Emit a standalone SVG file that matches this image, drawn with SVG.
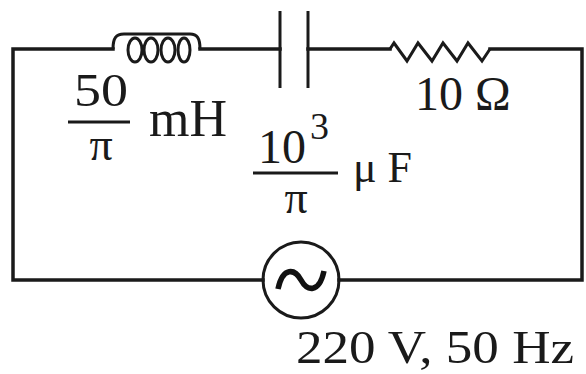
<svg xmlns="http://www.w3.org/2000/svg" width="586" height="374" viewBox="0 0 586 374">
<style>
.w{fill:none;stroke:#1a1a1a;stroke-width:3.5;stroke-linecap:square}
.c{fill:none;stroke:#1a1a1a;stroke-width:3}
.t{font-family:"Liberation Serif","Times New Roman",serif;fill:#1a1a1a}
</style>
<rect width="586" height="374" fill="#ffffff"/>
<g id="connectors">
<path class="w" d="M113,49 L13,49 L13,280 L263,280"/>
<path class="w" d="M200,49 L280,49"/>
<path class="w" d="M308,49 L390,49"/>
<path class="w" d="M490,49 L582,49 L582,280 L339,280"/>
</g>
<g id="inductor">
<path class="c" d="M113,49 C113,38 116,34 124,34 L190,34 C197,34 200,38 200,49"/>
<ellipse class="c" cx="135" cy="50" rx="7" ry="12"/>
<ellipse class="c" cx="151" cy="50" rx="7" ry="12"/>
<ellipse class="c" cx="168" cy="50" rx="7" ry="12"/>
<ellipse class="c" cx="184" cy="50" rx="6" ry="12"/>
<text class="t" x="74" y="106" font-size="46" textLength="54" lengthAdjust="spacingAndGlyphs">50</text>
<line class="c" x1="68" y1="122" x2="130" y2="122"/>
<text class="t" x="101" y="160" font-size="46" text-anchor="middle">π</text>
<text class="t" x="149" y="136" font-size="52">mH</text>
</g>
<g id="capacitor">
<line class="c" x1="280" y1="11" x2="280" y2="88" stroke-width="3.5"/>
<line class="c" x1="308" y1="11" x2="308" y2="88" stroke-width="3.5"/>
<text class="t" x="258" y="163" font-size="48">10</text>
<text class="t" x="310" y="139" font-size="38">3</text>
<line class="c" x1="253" y1="173" x2="338" y2="173"/>
<text class="t" x="296" y="213" font-size="46" text-anchor="middle">π</text>
<text class="t" x="353" y="182" font-size="44">μ F</text>
</g>
<g id="resistor">
<path class="c" d="M390,49 L394,43 L407,61 L418,43 L432,61 L443,43 L457,61 L468,43 L482,61 L490,49"/>
<text class="t" x="415" y="110" font-size="48">10 Ω</text>
</g>
<g id="source">
<circle class="c" cx="301" cy="280" r="38"/>
<path d="M278,289 C283,266 295,269 301,280 C307,291 319,294 324,271" fill="none" stroke="#111" stroke-width="5.5"/>
<text class="t" x="296" y="363" font-size="47" textLength="278" lengthAdjust="spacingAndGlyphs">220 V, 50 Hz</text>
</g>
</svg>
